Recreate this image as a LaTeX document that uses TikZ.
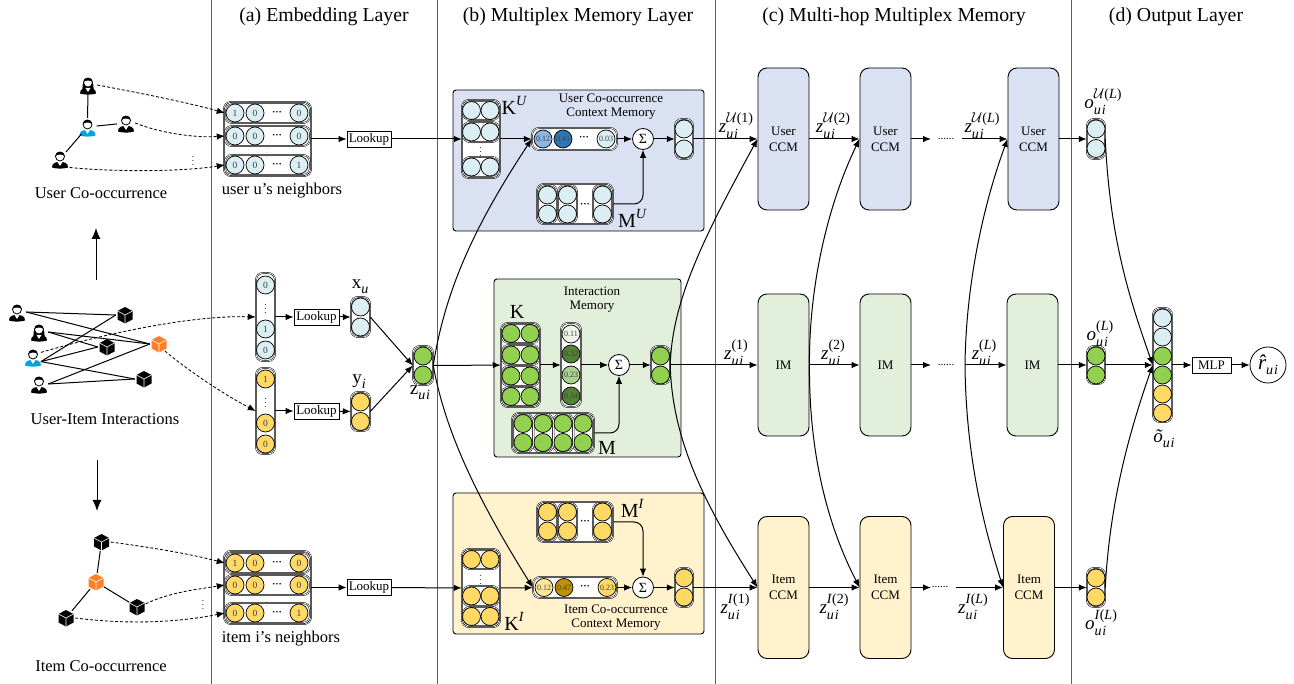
\documentclass[tikz,border=0pt]{standalone}
\usepackage{fontspec}
\setmainfont{Liberation Serif}
\usetikzlibrary{arrows.meta}
\definecolor{cblue}{HTML}{DAEEF3}
\definecolor{cgreen}{HTML}{92D050}
\definecolor{cyellow}{HTML}{FFD966}
\definecolor{bblue}{HTML}{D9E1F2}
\definecolor{bgreen}{HTML}{E2EFDA}
\definecolor{byellow}{HTML}{FFF2CC}
\definecolor{iblue}{HTML}{00A2E0}
\definecolor{iorange}{HTML}{FF7F27}
\definecolor{sep}{HTML}{606060}
\definecolor{abluea}{HTML}{8DB4E2}
\definecolor{ablueb}{HTML}{2E75B6}
\definecolor{agreena}{HTML}{EEF5E8}
\definecolor{agreenb}{HTML}{548235}
\definecolor{agreenc}{HTML}{A9D18E}
\definecolor{ayella}{HTML}{FFE699}
\definecolor{ayellb}{HTML}{BF9000}
\newcount\nodeid
\tikzset{
 x=1pt,y=-1pt,
 >={Latex[length=8pt,width=6.5pt]},
 wire/.style={line width=1pt,->},
 plain/.style={line width=1pt},
 dashwire/.style={line width=0.85pt,->,dash pattern=on 3pt off 2pt},
 cel/.style={circle,draw=black,line width=0.7pt,minimum size=18pt,inner sep=0pt,font=\fontsize{9.5}{10}\selectfont,text=black!75},
 att/.style={cel,font=\fontsize{8}{9}\selectfont},
 pillbox/.style={draw=black,line width=0.5pt,double=white,double distance=0.7pt,rounded corners=7pt,inner sep=0pt,fill=white},
 membox/.style={draw=black,line width=0.9pt,rounded corners=3pt,inner sep=0pt},
 ccm/.style={draw=black,line width=0.9pt,rounded corners=9pt,inner sep=0pt,align=center,minimum width=51pt,minimum height=142pt,font=\fontsize{13}{16}\selectfont},
 lookup/.style={draw=black,line width=0.8pt,inner sep=0pt,minimum height=16pt,font=\fontsize{13}{15}\selectfont},
 sumnode/.style={circle,draw=black,line width=0.8pt,fill=white,minimum size=21pt,inner sep=0pt,font=\fontsize{14}{15}\selectfont},
 icon/.style={circle,inner sep=0pt,minimum size=18pt},
 txt/.style={inner sep=0pt,align=center},
}
% name x1 y1 x2 y2
\newcommand{\pil}[5]{\node[pillbox,minimum width={(#4-#2)*1pt},minimum height={(#5-#3)*1pt}] (#1) at ({(#2+#4)/2},{(#3+#5)/2}) {};}
\newcommand{\cel}[4]{\global\advance\nodeid by 1 \node[cel,fill=#3] (n\the\nodeid) at (#1,#2) {#4};}
\newcommand{\acel}[4]{\global\advance\nodeid by 1 \node[att,fill=#3] (n\the\nodeid) at (#1,#2) {#4};}
% x y size text
\newcommand{\lbl}[4]{\global\advance\nodeid by 1 \node[txt,font=\fontsize{#3}{#3}\selectfont] (n\the\nodeid) at (#1,#2) {#4};}
\newcommand{\hdotz}[2]{\lbl{#1}{#2}{10}{\textbf{···}}}
\newcommand{\vdotz}[2]{\lbl{#1}{#2}{9}{$\vdots$}}
% symbol with sub and sup
\newcommand{\subsup}[3]{#1\rlap{\raisebox{-0.34em}{\fontsize{14}{14}\selectfont\itshape #2}}\raisebox{0.5em}{\fontsize{14}{14}\selectfont #3}}
\newcommand{\calU}{$\mathcal{U}$}
\newcommand{\ui}{u\kern0.06em i}
\newcommand{\zlab}[3]{\lbl{#1}{#2}{19}{\subsup{\textit{z}}{\ui}{#3}}}
\newcommand{\olab}[3]{\lbl{#1}{#2}{19}{\subsup{\textit{o}}{\ui}{#3}}}
\newcommand{\sym}[2]{#1\raisebox{-0.25em}{\fontsize{14}{14}\selectfont\itshape #2}}
\newcommand{\sups}[2]{#1\raisebox{0.45em}{\fontsize{14}{14}\selectfont\itshape #2}}
% name x y colour hair
\newcommand{\persn}[5]{\node[icon] (#1) at (#2,#3) {};
 \begin{scope}[shift={(#2,#3)}]
 #5
 \fill[#4] (-8,8.5) .. controls (-8,3.5) and (-4,3) .. (0,3) .. controls (4,3) and (8,3.5) .. (8,8.5) .. controls (3,10) and (-3,10) .. (-8,8.5) -- cycle;
 \fill[white] (-2.5,3) -- (2.5,3) -- (0,7) -- cycle;
 \draw[black,fill=white,line width=0.8pt] (0,-2.5) circle (4.5pt);
 \fill[black] (-4.6,-3) .. controls (-4.6,-8.6) and (4.6,-8.6) .. (4.6,-3) .. controls (2,-5) and (-2,-5) .. (-4.6,-3) -- cycle;
 \end{scope}}
\newcommand{\femhair}{\fill[black] (-5.6,4) .. controls (-6.2,-9.5) and (6.2,-9.5) .. (5.6,4) -- cycle;}
\newcommand{\cube}[4]{\node[icon] (#1) at (#2,#3) {};
 \begin{scope}[shift={(#2,#3)}]
 \fill[#4] (0,-8) -- (7.5,-4) -- (7.5,4.5) -- (0,8.5) -- (-7.5,4.5) -- (-7.5,-4) -- cycle;
 \draw[white,line width=0.6pt] (-7.5,-4) -- (0,0) -- (7.5,-4) (0,0) -- (0,8.5);
 \end{scope}}
\begin{document}
\begin{tikzpicture}
\useasboundingbox (0,0) rectangle (1294,684);
% separators
\foreach \xx in {211,437,715,1071} \draw[sep,line width=1pt] (\xx,0) -- (\xx,684);
% headers
\lbl{324}{17}{19.8}{(a) Embedding Layer}
\lbl{578}{17}{19.8}{(b) Multiplex Memory Layer}
\lbl{894}{17}{19.8}{(c) Multi-hop Multiplex Memory}
\lbl{1176}{17}{19.8}{(d) Output Layer}

% ------ user co-occurrence graph
\persn{ua}{88}{85}{black}{\femhair}
\persn{ub}{87.5}{127}{iblue}{}
\persn{uc}{126}{123}{black}{}
\persn{ud}{60}{159}{black}{}
\draw[plain] (ua) -- (ub);
\draw[plain] (ub) -- (uc);
\draw[plain] (ub) -- (ud);
\lbl{101}{193}{16.5}{User Co-occurrence}
\vdotz{193}{158}

% ------ user matrix
\pil{um}{224}{102}{311}{176}
\pil{umr1}{225}{103}{310}{123}
\pil{umr2}{225}{126}{310}{146}
\pil{umr3}{225}{155}{310}{175}
\foreach \yy/\aa/\bb/\cc in {113/1/0/0,136/0/0/0,165/0/0/1}{
 \cel{235}{\yy}{cblue}{\aa}\cel{255}{\yy}{cblue}{\bb}\cel{299}{\yy}{cblue}{\cc}\hdotz{277}{\yy}}
\lbl{267}{150}{5}{$\vdots$}
\lbl{282}{191}{16.5}{user u’s neighbors}
\node[lookup,minimum width=44pt] (lu) at (369,139) {Lookup};
\draw[wire] (um) -- (lu);
\draw[dashwire] (ua.east) .. controls (140,93) and (190,103) .. (umr1.west);
\draw[dashwire] (uc.east) .. controls (160,133) and (195,138) .. (umr2.west);
\draw[dashwire] (ud.-60) .. controls (110,172) and (180,172) .. (umr3.west);

% ------ arrows between graphs
\coordinate (upa) at (96,280);
\coordinate (upb) at (96,228);
\coordinate (dna) at (97,460);
\coordinate (dnb) at (97,511);
\draw[line width=1pt,-{Latex[length=11pt,width=9pt]}] (upa) -- (upb);
\draw[line width=1pt,-{Latex[length=11pt,width=9pt]}] (dna) -- (dnb);

% ------ user-item graph
\persn{pa}{17}{312}{black}{}
\persn{pb}{39}{332}{black}{\femhair}
\persn{pc}{33}{357}{iblue}{}
\persn{pd}{39}{384}{black}{}
\cube{ca}{125}{315}{black}
\cube{cb}{107}{347}{black}
\cube{cc}{159}{344}{iorange}
\cube{cd}{144}{379}{black}
\draw[plain] (pa.east) -- (ca.west);
\draw[plain] (pa.east) -- (cc.west);
\draw[plain] (pb.east) -- (cc.west);
\draw[plain] (pb.east) -- (cb.west);
\draw[plain] (pc.-30) -- (ca.west);
\draw[plain] (pc.-30) -- (cb.west);
\draw[plain] (pc.-30) -- (cd.west);
\draw[plain] (pd.east) -- (cc.west);
\draw[plain] (pd.east) -- (cd.west);
\lbl{105}{419}{16.5}{User-Item Interactions}

% ------ one-hot vectors
\pil{xv}{256}{273}{275}{361}
\foreach \yy/\tt in {285/0,329/1,350/0}{\cel{265.5}{\yy}{cblue}{\tt}}
\vdotz{265.5}{306}
\pil{yv}{256}{368}{275}{454}
\foreach \yy/\tt in {379/1,423/0,444/0}{\cel{265.5}{\yy}{cyellow}{\tt}}
\vdotz{265.5}{400}
\draw[dashwire] (pc.30) .. controls (100,335) and (190,315) .. (xv.west);
\draw[dashwire] (cc.-50) .. controls (190,372) and (225,395) .. (yv.west);
\node[lookup,minimum width=45pt] (lx) at (316.5,317) {Lookup};
\node[lookup,minimum width=45pt] (ly) at (316.5,411) {Lookup};
\draw[wire] (xv) -- (lx);
\draw[wire] (yv) -- (ly);
\pil{xp}{351}{297}{370}{337}
\cel{360.5}{307}{cblue}{}\cel{360.5}{327}{cblue}{}
\pil{yp}{351}{392}{370}{431}
\cel{360.5}{402}{cyellow}{}\cel{360.5}{421.5}{cyellow}{}
\draw[wire] (lx) -- (xp);
\draw[wire] (ly) -- (yp);
\lbl{360}{287}{19}{\sym{x}{u}}
\lbl{359}{382}{19}{\sym{y}{i}}
\pil{zp}{413}{346}{433}{385}
\cel{423}{356}{cgreen}{}\cel{423}{375}{cgreen}{}
\lbl{420}{393}{19}{\sym{z}{\ui}}
\draw[wire] (xp.east) -- (zp.west);
\draw[wire] (yp.east) -- (zp.west);

% ------ item co-occurrence graph
\cube{ia}{101.5}{542}{black}
\cube{ib}{96}{582}{iorange}
\cube{ic}{137}{607}{black}
\cube{id}{66}{618}{black}
\draw[plain] (ia) -- (ib);
\draw[plain] (ib) -- (ic);
\draw[plain] (ib) -- (id);
\vdotz{203}{602}
\lbl{101}{666}{16.5}{Item Co-occurrence}

% ------ item matrix
\pil{im}{224}{551}{311}{624}
\pil{imr1}{225}{553}{310}{573}
\pil{imr2}{225}{575}{310}{595}
\pil{imr3}{225}{603}{310}{623}
\foreach \yy/\aa/\bb/\cc in {563/1/0/0,585/0/0/0,613/0/0/1}{
 \cel{235}{\yy}{cyellow}{\aa}\cel{255}{\yy}{cyellow}{\bb}\cel{299}{\yy}{cyellow}{\cc}\hdotz{277}{\yy}}
\lbl{267}{599}{5}{$\vdots$}
\lbl{281}{639}{16.5}{item i’s neighbors}
\node[lookup,minimum width=44pt] (li) at (369,587.5) {Lookup};
\draw[wire] (im) -- (li);
\draw[dashwire] (ia.east) .. controls (155,548) and (190,554) .. (imr1.west);
\draw[dashwire] (ic.20) .. controls (170,592) and (200,589) .. (imr2.west);
\draw[dashwire] (id.east) .. controls (130,625) and (180,622) .. (imr3.west);

% ------ user memory
\node[membox,fill=bblue,minimum width=251pt,minimum height=141pt] (mu) at (578.5,160.5) {};
\lbl{611}{98}{13}{User Co-occurrence}
\lbl{611}{114}{13}{Context Memory}
\pil{ku}{462}{100}{500}{178}
\pil{kur1}{463}{101}{499}{120}
\pil{kur2}{463}{122}{499}{142}
\pil{kur3}{463}{157}{499}{177}
\foreach \yy in {110.5,132,167}{\cel{471.5}{\yy}{cblue}{}\cel{490}{\yy}{cblue}{}}
\vdotz{480.5}{149}
\lbl{514}{105}{20}{\sups{K}{U}}
\pil{au}{532}{128}{617}{150}
\acel{543}{139}{abluea}{0.12}
\acel{563}{139}{ablueb}{0.41}
\acel{606}{139}{cblue}{0.03}
\hdotz{584}{138}
\node[sumnode] (su) at (643,139) {Σ};
\pil{ou}{675}{119}{693}{159}
\cel{684}{129}{cblue}{}\cel{684}{149}{cblue}{}
\pil{mub}{537}{184}{613}{224}
\pil{muc1}{538}{185}{557}{223}
\pil{muc2}{558}{185}{577}{223}
\pil{muc3}{593}{185}{612}{223}
\foreach \xx in {547.5,567.5,602.5}{\cel{\xx}{195}{cblue}{}\cel{\xx}{214}{cblue}{}}
\hdotz{585}{205}
\lbl{632}{218}{20}{\sups{M}{U}}
\draw[wire] (lu) -- (ku);
\draw[wire] (ku) -- (au);
\draw[wire] (au) -- (su);
\draw[wire] (su) -- (ou);
\draw[wire,rounded corners=9pt] (mub.east) -| (su.south);

% ------ interaction memory
\node[membox,fill=bgreen,minimum width=187pt,minimum height=178pt] (mm) at (587.5,368) {};
\lbl{592}{291}{13}{Interaction}
\lbl{592}{307}{13}{Memory}
\pil{kk}{501}{323}{540}{407}
\pil{kkr1}{502}{324}{539}{343}
\pil{kkr2}{502}{345}{539}{365}
\pil{kkr3}{502}{366}{539}{386}
\pil{kkr4}{502}{387}{539}{406}
\foreach \yy in {333.5,355,376,396.5}{\cel{511}{\yy}{cgreen}{}\cel{530}{\yy}{cgreen}{}}
\lbl{517}{312}{20}{K}
\pil{am}{561}{323}{581}{407}
\acel{571}{334}{agreena}{0.11}
\acel{571}{354}{agreenb}{0.32}
\acel{571}{375}{agreenc}{0.23}
\acel{571}{396}{agreenb}{0.34}
\node[sumnode] (sm) at (619,365) {Σ};
\pil{om}{651}{346}{670}{384}
\cel{660.5}{356}{cgreen}{}\cel{660.5}{375}{cgreen}{}
\pil{mmb}{512}{413}{594}{453}
\pil{mmc1}{513}{414}{533}{452}
\pil{mmc2}{533.5}{414}{553}{452}
\pil{mmc3}{553.5}{414}{573}{452}
\pil{mmc4}{573.5}{414}{593}{452}
\foreach \xx in {523,543,563,583}{\cel{\xx}{423.5}{cgreen}{}\cel{\xx}{442.5}{cgreen}{}}
\lbl{607}{448}{20}{M}
\draw[wire] (zp) -- (kk);
\draw[wire] (kk) -- (am);
\draw[wire] (am) -- (sm);
\draw[wire] (sm) -- (om);
\draw[wire,rounded corners=9pt] (mmb.east) -| (sm.south);

% ------ item memory
\node[membox,fill=byellow,minimum width=251pt,minimum height=141pt] (mi) at (578.5,563.5) {};
\lbl{616}{609}{13}{Item Co-occurrence}
\lbl{616}{625}{13}{Context Memory}
\pil{ki}{462}{549}{500}{627}
\pil{kir1}{463}{550}{499}{569}
\pil{kir2}{463}{586}{499}{606}
\pil{kir3}{463}{607}{499}{626}
\foreach \yy in {559.5,596,616.5}{\cel{471.5}{\yy}{cyellow}{}\cel{490}{\yy}{cyellow}{}}
\vdotz{480.5}{577}
\lbl{514}{621}{20}{\sups{K}{I}}
\pil{ai}{533}{577}{617}{598}
\acel{544}{587.5}{ayella}{0.12}
\acel{564}{587.5}{ayellb}{0.47}
\acel{607}{587.5}{cyellow}{0.23}
\hdotz{585}{587}
\node[sumnode] (si) at (643,587.5) {Σ};
\pil{oi}{675}{568}{693}{607}
\cel{684}{578}{cyellow}{}\cel{684}{597}{cyellow}{}
\pil{mib}{537}{502}{613}{542}
\pil{mic1}{538}{503}{557}{541}
\pil{mic2}{558}{503}{577}{541}
\pil{mic3}{593}{503}{612}{541}
\foreach \xx in {547.5,567.5,602.5}{\cel{\xx}{512}{cyellow}{}\cel{\xx}{531}{cyellow}{}}
\hdotz{585}{522}
\lbl{632}{508}{20}{\sups{M}{I}}
\draw[wire] (li) -- (ki);
\draw[wire] (ki) -- (ai);
\draw[wire] (ai) -- (si);
\draw[wire] (si) -- (oi);
\draw[wire,rounded corners=9pt] (mib.east) -| (si.north);

% ------ z to attention
\draw[wire] (zp.east) .. controls (445,290) and (475,225) .. (au.west);
\draw[wire] (zp.east) .. controls (445,430) and (475,495) .. (ai.west);

% ------ CCM blocks
\node[ccm,fill=bblue] (u1) at (783.5,139) {User\\CCM};
\node[ccm,fill=bblue] (u2) at (885.5,139) {User\\CCM};
\node[ccm,fill=bblue] (u3) at (1033.5,139) {User\\CCM};
\node[ccm,fill=bgreen] (m1) at (783.5,365) {IM};
\node[ccm,fill=bgreen] (m2) at (885.5,365) {IM};
\node[ccm,fill=bgreen] (m3) at (1032.5,365) {IM};
\node[ccm,fill=byellow] (i1) at (783.5,587.5) {Item\\CCM};
\node[ccm,fill=byellow] (i2) at (885.5,587.5) {Item\\CCM};
\node[ccm,fill=byellow] (i3) at (1029,587.5) {Item\\CCM};
\draw[wire] (ou) -- (u1);
\draw[wire] (om) -- (m1);
\draw[wire] (oi) -- (i1);
\draw[wire] (u1) -- (u2);
\draw[wire] (m1) -- (m2);
\draw[wire] (i1) -- (i2);
\draw[wire] (om.east) .. controls (672,300) and (705,235) .. (u1.west);
\draw[wire] (om.east) .. controls (672,440) and (705,505) .. (i1.west);
\draw[wire] (m1.east) .. controls (809,280) and (830,200) .. (u2.west);
\draw[wire] (m1.east) .. controls (809,460) and (830,530) .. (i2.west);
% gaps with dots
\coordinate (ua1) at (931,139); \coordinate (ub1) at (962,139);
\coordinate (ma1) at (931,365); \coordinate (mb1) at (965,365);
\coordinate (ia1) at (931,587.5); \coordinate (ib1) at (956,587.5);
\draw[wire] (u2) -- (ua1);
\draw[wire] (m2) -- (ma1);
\draw[wire] (i2) -- (ia1);
\draw[wire] (ub1) -- (u3);
\draw[wire] (mb1) -- (m3);
\draw[wire] (ib1) -- (i3);
\lbl{946}{139}{11}{......}
\lbl{946}{365}{11}{......}
\lbl{940}{587.5}{11}{......}
\draw[wire] (mb1) .. controls (966,280) and (985,200) .. (u3.west);
\draw[wire] (mb1) .. controls (966,460) and (985,530) .. (i3.west);
% z labels
\zlab{736}{126}{\calU(1)}
\zlab{833}{126}{\calU(2)}
\zlab{982}{126}{\calU(\textit{L})}
\zlab{736}{353}{(1)}
\zlab{833}{353}{(2)}
\zlab{984}{353}{(\textit{L})}
\zlab{735}{607}{\textit{I}(1)}
\zlab{834}{607}{\textit{I}(2)}
\zlab{973}{607}{\textit{I}(\textit{L})}

% ------ output layer
\pil{oa}{1087}{119}{1105}{159}
\cel{1096}{129}{cblue}{}\cel{1096}{148.5}{cblue}{}
\pil{ob}{1087}{346}{1105}{384}
\cel{1096}{356}{cgreen}{}\cel{1096}{375}{cgreen}{}
\pil{oc}{1087}{568}{1105}{607}
\cel{1096}{578}{cyellow}{}\cel{1096}{597}{cyellow}{}
\draw[wire] (u3) -- (oa);
\draw[wire] (m3) -- (ob);
\draw[wire] (i3) -- (oc);
\olab{1103}{102}{\calU(\textit{L})}
\olab{1100}{334}{(\textit{L})}
\olab{1101}{623}{\textit{I}(\textit{L})}
\pil{oo}{1153}{308}{1172}{422}
\foreach \yy/\cc in {318/cblue,337/cblue,356/cgreen,375/cgreen,394/cyellow,413/cyellow}{\cel{1162.5}{\yy}{\cc}{}}
\lbl{1164}{439}{19}{\sym{\textit{õ}}{\ui}}
\draw[wire] (oa.east) .. controls (1110,240) and (1130,300) .. (oo.west);
\draw[wire] (ob) -- (oo);
\draw[wire] (oc.east) .. controls (1110,500) and (1130,430) .. (oo.west);
\node[lookup,minimum width=39pt] (mlp) at (1211.5,365) {MLP};
\node[circle,draw=black,line width=0.8pt,minimum size=36pt,inner sep=0pt,font=\fontsize{21}{22}\selectfont] (rr) at (1268,365) {\sym{{\itshape\^{r}}}{\ui}};
\draw[wire] (oo) -- (mlp);
\draw[wire] (mlp) -- (rr);
\end{tikzpicture}
\end{document}
